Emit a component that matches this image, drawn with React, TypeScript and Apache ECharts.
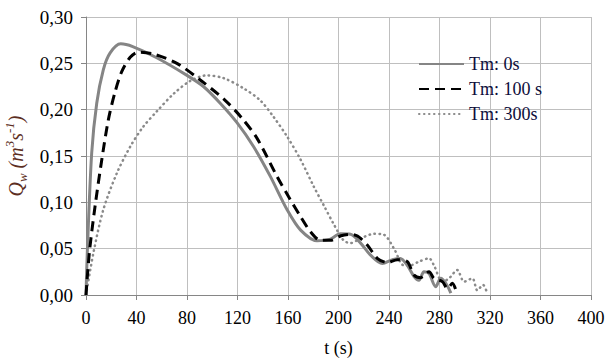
import React, { useEffect, useRef } from "react";
import * as echarts from "echarts";

const xTicks = [0, 40, 80, 120, 160, 200, 240, 280, 320, 360, 400];
const yTicks = [0, 0.05, 0.1, 0.15, 0.2, 0.25, 0.3];

const seriesNames = ["Tm: 0s", "Tm: 100 s", "Tm: 300s"];

const t0 = [0, 1, 4.5, 8.5, 13.7, 19, 27.5, 37, 56, 80, 93, 106.3, 119.6, 132.8, 146, 159.3, 170, 183, 193, 201.6, 209.5, 217.5, 225.4, 234.7, 242.6, 249, 254.5, 259.8, 263.7, 267.7, 271.7, 277, 281, 285, 289];
const q0 = [0, 0.045, 0.153, 0.207, 0.243, 0.261, 0.271, 0.268, 0.256, 0.237, 0.225, 0.207, 0.186, 0.16, 0.128, 0.092, 0.07, 0.0586, 0.06, 0.066, 0.0655, 0.056, 0.043, 0.034, 0.038, 0.0395, 0.032, 0.02, 0.016, 0.025, 0.023, 0.009, 0.018, 0.0126, 0.002];

const t1 = [0, 2.6, 7.1, 12.5, 17.7, 23, 28.3, 35, 41.5, 53.4, 72, 90.5, 110, 123.6, 135.5, 151.3, 160.5, 170, 178, 185.7, 193.7, 202, 209.5, 215, 222.8, 230.7, 238.7, 246.6, 254.5, 259.8, 265, 271.7, 275.6, 282.3, 286.3, 290.2, 293];
const q1 = [0, 0.045, 0.095, 0.146, 0.189, 0.219, 0.241, 0.2565, 0.262, 0.26, 0.25, 0.232, 0.2104, 0.1907, 0.169, 0.128, 0.106, 0.0845, 0.068, 0.059, 0.059, 0.064, 0.0655, 0.0637, 0.054, 0.0396, 0.035, 0.038, 0.036, 0.0216, 0.0187, 0.025, 0.018, 0.0144, 0.007, 0.0126, 0.005];

const t2 = [0, 5.8, 13.7, 24.3, 35, 45, 56, 69.3, 82.5, 95.8, 109, 124.8, 138, 148.7, 159.3, 170, 180.4, 189, 196, 204, 209.5, 217.5, 228, 236, 244, 251.8, 257, 263.7, 271.7, 275.6, 282.3, 287.6, 294, 299.5, 306, 310, 314.5, 317];
const q2 = [0, 0.045, 0.092, 0.131, 0.16, 0.181, 0.198, 0.217, 0.231, 0.237, 0.234, 0.223, 0.21, 0.192, 0.171, 0.146, 0.117, 0.095, 0.077, 0.059, 0.056, 0.061, 0.066, 0.065, 0.05, 0.032, 0.032, 0.036, 0.0396, 0.032, 0.0144, 0.018, 0.027, 0.0144, 0.018, 0.005, 0.011, 0.005];

const pair = (t: number[], q: number[]) => t.map((v, i) => [v, q[i]]);

const FONT = "Liberation Serif";
const TITLE_COLOR = "#5c2e22";

export default function App() {
  const ref = useRef<HTMLDivElement>(null);
  useEffect(() => {
    if (!ref.current) return;
    const chart = echarts.init(ref.current, null, { renderer: "svg" });
    chart.setOption({
      animation: false,
      backgroundColor: "#ffffff",
      textStyle: { fontFamily: FONT },
      grid: { left: 86, right: 16, top: 17, bottom: 67, containLabel: false, outerBoundsMode: "none" },
      legend: {
        orient: "vertical",
        left: 413,
        top: 50,
        itemWidth: 45,
        itemHeight: 14,
        itemGap: 7,
        data: seriesNames,
        itemStyle: { opacity: 0 },
        textStyle: { fontFamily: FONT, fontSize: 18, color: "#0d0d3a" },
      },
      xAxis: {
        type: "value",
        min: 0,
        max: 400,
        interval: 40,
        name: "t (s)",
        nameLocation: "middle",
        nameGap: 44,
        nameTextStyle: { fontFamily: FONT, fontSize: 18, color: "#000" },
        axisLine: { show: true, lineStyle: { color: "#868686", width: 1 } },
        axisTick: { show: true, length: 5, lineStyle: { color: "#868686" } },
        axisLabel: {
          margin: 14,
          fontFamily: FONT,
          fontSize: 18,
          color: "#000",
          formatter: (v: number) => (xTicks.includes(v) ? String(v) : ""),
        },
        splitLine: { show: true, lineStyle: { color: "#bfbfbf", width: 1 } },
      },
      yAxis: {
        type: "value",
        min: 0,
        max: 0.3,
        interval: 0.05,
        name: "{i|Q}{sub|w}{i| (m}{sup|3}{i|s}{sup|-1}{i|)}",
        nameLocation: "middle",
        nameRotate: 90,
        nameGap: 47,
        nameTextStyle: {
          fontFamily: FONT,
          fontSize: 20,
          color: TITLE_COLOR,
          padding: [0, 0, 6, 0],
          rich: {
            i: { fontFamily: FONT, fontSize: 20, fontStyle: "italic", color: TITLE_COLOR, lineHeight: 26, verticalAlign: "middle" },
            sub: { fontFamily: FONT, fontSize: 13, fontStyle: "italic", color: TITLE_COLOR, lineHeight: 26, verticalAlign: "bottom" },
            sup: { fontFamily: FONT, fontSize: 13, fontStyle: "italic", color: TITLE_COLOR, lineHeight: 26, verticalAlign: "top" },
          },
        },
        axisLine: { show: true, lineStyle: { color: "#868686", width: 1 } },
        axisTick: { show: true, length: 5, lineStyle: { color: "#868686" } },
        axisLabel: {
          margin: 13,
          fontFamily: FONT,
          fontSize: 19,
          color: "#000",
          formatter: (v: number) => {
            const match = yTicks.find((y) => Math.abs(y - v) < 1e-9);
            return match === undefined ? "" : match.toFixed(2).replace(".", ",");
          },
        },
        splitLine: { show: true, lineStyle: { color: "#bfbfbf", width: 1 } },
      },
      series: [
        {
          name: seriesNames[0],
          type: "line",
          data: pair(t0, q0),
          smooth: 0.3,
          symbol: "none",
          lineStyle: { color: "#858585", width: 3 },
          itemStyle: { color: "#858585" },
          z: 3,
        },
        {
          name: seriesNames[1],
          type: "line",
          data: pair(t1, q1),
          smooth: 0.3,
          symbol: "none",
          lineStyle: { color: "#000000", width: 3, type: [10, 6] },
          itemStyle: { color: "#000000" },
          z: 4,
        },
        {
          name: seriesNames[2],
          type: "line",
          data: pair(t2, q2),
          smooth: 0.3,
          symbol: "none",
          lineStyle: { color: "#8a8a8a", width: 2.5, type: [0.5, 4.5], cap: "round" },
          itemStyle: { color: "#8a8a8a" },
          z: 2,
        },
      ],
    });
    return () => chart.dispose();
  }, []);
  return <div ref={ref} style={{ position: "fixed", left: 0, top: 0, width: 607, height: 362 }} />;
}
